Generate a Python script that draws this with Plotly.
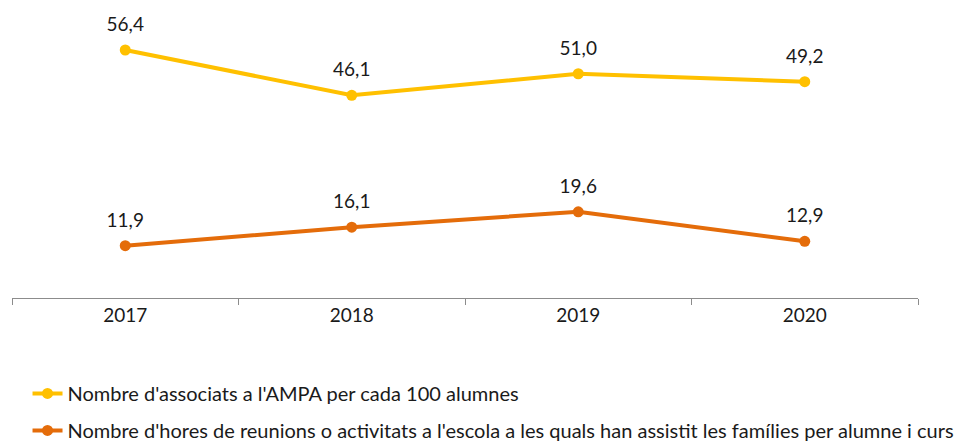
import plotly.graph_objects as go

years = ["2017", "2018", "2019", "2020"]
ampa = [56.4, 46.1, 51.0, 49.2]
hores = [11.9, 16.1, 19.6, 12.9]
names = ["Nombre d'associats a l'AMPA per cada 100 alumnes",
         "Nombre d'hores de reunions o activitats a l'escola a les quals han assistit les famílies per alumne i curs"]
colors = ["#FFC000", "#E46C0A"]

FONT = "Lato"
fig = go.Figure()
for i, (vals, name, col) in enumerate(zip([ampa, hores], names, colors)):
    fig.add_trace(go.Scatter(x=years, y=vals, name=name, mode="lines+markers",
                             legendgroup=f"g{i}",
                             line=dict(color=col, width=4),
                             marker=dict(color=col, size=11)))
    # data labels: transparent marker pushes text above the point
    fig.add_trace(go.Scatter(x=years, y=vals, mode="markers+text", showlegend=False,
                             hoverinfo="skip",
                             text=[f"{v:.1f}".replace(".", ",") for v in vals],
                             textposition="top center",
                             textfont=dict(family=FONT, size=19, color="#1a1a1a"),
                             marker=dict(size=21, opacity=0)))

fig.update_layout(
    width=959, height=441,
    margin=dict(l=12, r=41, t=10, b=143, autoexpand=False),
    paper_bgcolor="white", plot_bgcolor="white",
    showlegend=True,
    legend=dict(orientation="v", xref="container", yref="container", x=0.0287, y=0.152,
                xanchor="left", yanchor="top",
                font=dict(family=FONT, size=20, color="#1a1a1a"),
                tracegroupgap=8, itemwidth=30),
    font=dict(family=FONT),
)
fig.update_xaxes(type="category", tickson="boundaries", ticks="outside", ticklen=6,
                 tickcolor="#8c8c8c", showline=True, linecolor="#8c8c8c", linewidth=1,
                 showgrid=False, tickfont=dict(family=FONT, size=19, color="#1a1a1a"),
                 tickangle=0, range=[-0.5, 3.5])
fig.update_yaxes(range=[0, 65.5], showticklabels=False, ticks="", showline=False,
                 showgrid=False, zeroline=False)

fig.write_html("out.html", config={"displayModeBar": False},
               post_script="document.body.style.margin='0';"
                           "document.documentElement.style.overflow='hidden';"
                           "document.body.style.overflow='hidden';")
